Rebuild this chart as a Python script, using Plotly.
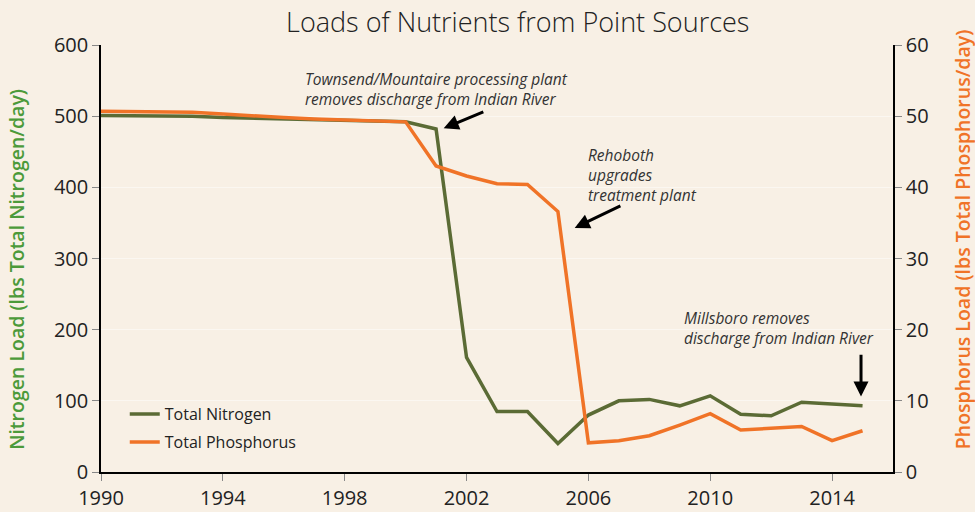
import plotly.graph_objects as go

years = list(range(1990, 2016))
nitrogen = [501, 501, 500.5, 500, 498, 497, 495.5, 494.5, 494, 493.5, 492, 482,
            161, 85, 85, 40, 80, 100, 102, 93, 107, 81, 79, 98, 95, 93]
phosphorus = [50.7, 50.65, 50.6, 50.55, 50.3, 50.0, 49.8, 49.6, 49.5, 49.4, 49.2, 43.0,
              41.6, 40.5, 40.4, 36.6, 4.1, 4.4, 5.1, 6.6, 8.2, 5.9, 6.1, 6.4, 4.4, 5.8]
x_ticks = [1990, 1994, 1998, 2002, 2006, 2010, 2014]

GREEN = "#5b6b35"
ORANGE = "#f07327"
BG = "#f8f0e5"
FONT = "Open Sans"

fig = go.Figure()
fig.add_trace(go.Scatter(x=years, y=nitrogen, name="Total Nitrogen", mode="lines",
                         legendgroup="n", line=dict(color=GREEN, width=3.5)))
fig.add_trace(go.Scatter(x=years, y=phosphorus, name="Total Phosphorus", mode="lines",
                         legendgroup="p", line=dict(color=ORANGE, width=3.5), yaxis="y2"))

ann_font = dict(family=FONT, size=15.5, color="#333333", style="italic")
annotations = [
    dict(x=1996.63, y=538, xref="x", yref="y", xanchor="left", yanchor="middle",
         text="Townsend/Mountaire processing plant<br>removes discharge from Indian River",
         showarrow=False, align="left", font=ann_font),
    dict(x=2005.92, y=417, xref="x", yref="y", xanchor="left", yanchor="middle",
         text="Rehoboth<br>upgrades<br>treatment plant",
         showarrow=False, align="left", font=ann_font),
    dict(x=2009.07, y=203, xref="x", yref="y", xanchor="left", yanchor="middle",
         text="Millsboro removes<br>discharge from Indian River",
         showarrow=False, align="left", font=ann_font),
    dict(x=2001.25, y=483, ax=2002.6, ay=507, xref="x", yref="y", axref="x", ayref="y",
         text="", showarrow=True, arrowhead=2, arrowsize=1, arrowwidth=3, arrowcolor="black"),
    dict(x=2005.55, y=343, ax=2007.1, ay=375, xref="x", yref="y", axref="x", ayref="y",
         text="", showarrow=True, arrowhead=2, arrowsize=1, arrowwidth=3, arrowcolor="black"),
    dict(x=2014.95, y=106, ax=2014.95, ay=167, xref="x", yref="y", axref="x", ayref="y",
         text="", showarrow=True, arrowhead=2, arrowsize=1, arrowwidth=3, arrowcolor="black"),
    dict(x=-0.107, y=0.474, xref="paper", yref="paper", xanchor="center", yanchor="middle",
         text="Nitrogen Load (lbs Total Nitrogen/day)", textangle=-90, showarrow=False,
         font=dict(family=FONT, size=19.5, color="#4c9a3a", weight=600)),
    dict(x=1.087, y=0.545, xref="paper", yref="paper", xanchor="center", yanchor="middle",
         text="Phosphorus Load (lbs Total Phosphorus/day)", textangle=-90, showarrow=False,
         font=dict(family=FONT, size=19.5, color=ORANGE, weight=600)),
]

fig.update_layout(
    width=975, height=512,
    paper_bgcolor=BG, plot_bgcolor=BG,
    margin=dict(l=101, r=82, t=45, b=40, autoexpand=False),
    font=dict(family=FONT, color="#222222"),
    title=dict(text="Loads of Nutrients from Point Sources", x=0.531, xanchor="center",
               y=0.955, yanchor="middle", font=dict(size=27, family=FONT, color="#222222", weight=300)),
    showlegend=True,
    legend=dict(x=0.03, y=0.03, xanchor="left", yanchor="bottom", bgcolor="rgba(0,0,0,0)",
                font=dict(size=16, family=FONT, color="#222222"),
                traceorder="grouped", tracegroupgap=4),
    xaxis=dict(range=[1990, 2016], tickvals=x_ticks, showgrid=False, showline=True,
               linecolor="black", linewidth=1.5, ticks="outside", ticklen=7, tickcolor="#888888",
               tickfont=dict(size=20), zeroline=False, automargin=False),
    yaxis=dict(range=[0, 600], dtick=100, showline=True, linecolor="black", linewidth=1.5,
               ticks="outside", ticklen=7, tickcolor="#888888", tickfont=dict(size=20),
               showgrid=True, gridcolor="rgba(255,255,255,0.45)", gridwidth=1, zeroline=False,
               automargin=False),
    yaxis2=dict(range=[0, 60], dtick=10, overlaying="y", side="right", showline=True,
                linecolor="black", linewidth=1.5, ticks="outside", ticklen=7,
                tickcolor="#888888", tickfont=dict(size=20), showgrid=False, zeroline=False,
                automargin=False),
    annotations=annotations,
)

fig.write_html("out.html", config={"displayModeBar": False},
               post_script="document.body.style.margin='0';document.body.style.background='%s';" % BG)
